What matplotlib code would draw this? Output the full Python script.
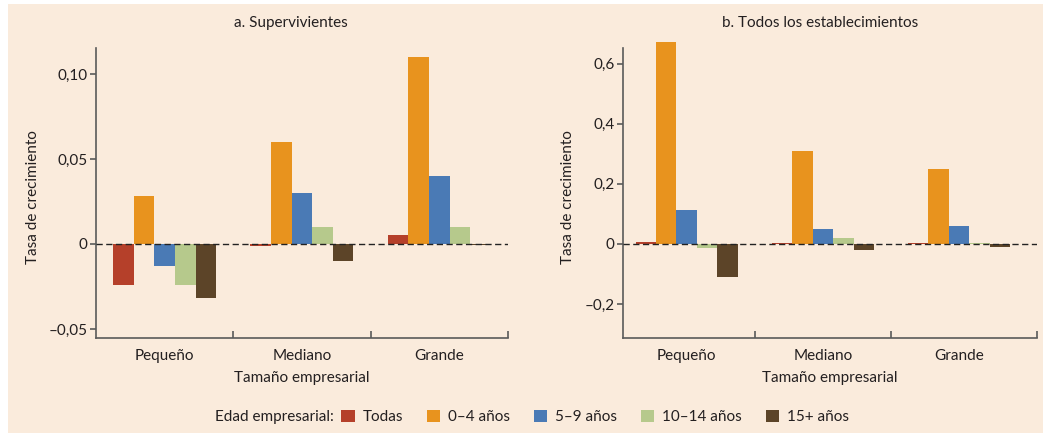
import numpy as np
import matplotlib
matplotlib.use("Agg")
import matplotlib.pyplot as plt
from matplotlib.patches import Rectangle, Patch

plt.rcParams['font.family'] = ['Lato', 'DejaVu Sans']

categorias = ["Pequeño", "Mediano", "Grande"]
edades = ["Todas", "0–4 años", "5–9 años", "10–14 años", "15+ años"]
colores = ["#B5402A", "#E8931E", "#4A7AB5", "#B6C98C", "#5C4428"]

# valores por edad (filas) y tamaño (columnas)
supervivientes = [
    [-0.024, -0.001, 0.005],
    [0.028, 0.060, 0.110],
    [-0.013, 0.030, 0.040],
    [-0.024, 0.010, 0.010],
    [-0.032, -0.010, -0.0005],
]
todos = [
    [0.005, 0.002, 0.002],
    [0.672, 0.311, 0.248],
    [0.114, 0.051, 0.060],
    [-0.015, 0.020, 0.002],
    [-0.110, -0.020, -0.011],
]

titulos = ["a. Supervivientes", "b. Todos los establecimientos"]
yticks_a = [-0.05, 0, 0.05, 0.10]
ylabels_a = ["–0,05", "0", "0,05", "0,10"]
yticks_b = [-0.2, 0, 0.2, 0.4, 0.6]
ylabels_b = ["–0,2", "0", "0,2", "0,4", "0,6"]

W, H = 1050, 433
fig = plt.figure(figsize=(W / 100, H / 100), dpi=100)
fig.patch.set_facecolor("white")
fig.patches.append(Rectangle((8 / W, 0), 1035 / W, 1 - 4 / H, transform=fig.transFigure,
                             facecolor="#FAEBDC", edgecolor="none", zorder=-10))

axis_col = "#5A5A5A"
text_col = "#231F20"
bw = 0.15


def panel(rect, datos, ylim, xlim, yt, yl, titulo, title_x, ylab_x):
    ax = fig.add_axes(rect)
    ax.set_facecolor("none")
    x = np.arange(len(categorias))
    for i, serie in enumerate(datos):
        ax.bar(x + (i - 2) * bw, serie, width=bw, color=colores[i], zorder=2, clip_on=False)
    ax.axhline(0, color="#222222", lw=1.0, ls=(0, (4.5, 2.5)), zorder=3)
    ax.set_xlim(*xlim)
    ax.set_ylim(*ylim)
    ax.set_yticks(yt)
    ax.set_yticklabels(yl)
    ax.set_xticks(x)
    ax.set_xticklabels(categorias)
    ax.set_xticks([0.5, 1.5, xlim[1]], minor=True)
    ax.tick_params(axis="x", which="major", length=0, pad=8, labelsize=11, labelcolor=text_col)
    ax.tick_params(axis="x", which="minor", direction="in", length=5, width=1.2, color=axis_col)
    ax.tick_params(axis="y", length=4, width=1.2, color=axis_col, labelsize=11,
                   labelcolor=text_col, pad=2)
    for s in ["top", "right"]:
        ax.spines[s].set_visible(False)
    for s in ["left", "bottom"]:
        ax.spines[s].set_color(axis_col)
        ax.spines[s].set_linewidth(1.2)
    ax.set_xlabel("Tamaño empresarial", fontsize=11, color=text_col, labelpad=6)
    ax.set_ylabel("Tasa de crecimiento", fontsize=11, color=text_col)
    ax.yaxis.set_label_coords(ylab_x, 0.486)
    fig.text(title_x / W, 1 - 23 / H, titulo, ha="center", va="center",
             fontsize=11, color=text_col)
    return ax


panel([96 / W, 1 - 338 / H, 412 / W, 290 / H], supervivientes, (-0.0553, 0.1153),
      (-0.5, 2.5), yticks_a, ylabels_a, titulos[0], 291, -0.136)
panel([622.7 / W, 1 - 338 / H, 414 / W, 290 / H], todos, (-0.3136, 0.6526),
      (-0.47, 2.57), yticks_b, ylabels_b, titulos[1], 820, -0.115)

fig.text(334 / W, 1 - 417 / H, "Edad empresarial:", ha="right", va="center",
         fontsize=11, color=text_col)
handles = [Patch(facecolor=c, edgecolor="none") for c in colores]
fig.legend(handles, edades, loc="center left", bbox_to_anchor=(341 / W, 1 - 417 / H),
           ncol=5, frameon=False, fontsize=11, handlelength=0.9, handleheight=0.9,
           handletextpad=0.5, columnspacing=1.55, borderpad=0, borderaxespad=0,
           labelcolor=text_col)

fig.savefig("out.png", dpi=100)
